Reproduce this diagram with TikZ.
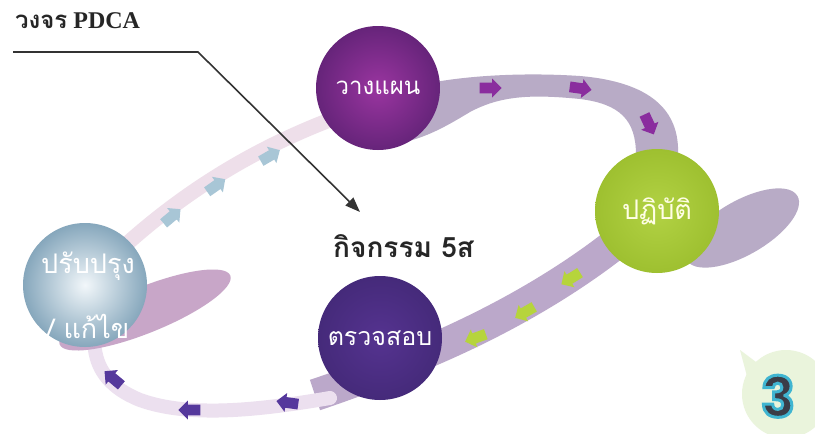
\documentclass[tikz,border=0pt]{standalone}
\usepackage{fontspec}
\setmainfont{Liberation Serif}
\newfontfamily\thai[Script=Thai]{Loma}
\newfontfamily\numfont{Poppins}
\usetikzlibrary{shapes.arrows,shapes.geometric,arrows.meta}
\definecolor{graytrack}{HTML}{B8ABC6}
\definecolor{graytrackB}{HTML}{BBA8CA}
\definecolor{pinktrack}{HTML}{EEDFEA}
\definecolor{palelav}{HTML}{ECE0EF}
\definecolor{actshadow}{HTML}{C8A6C8}
\definecolor{planin}{HTML}{9A35A0}
\definecolor{planout}{HTML}{66247A}
\definecolor{doin}{HTML}{B2D244}
\definecolor{doout}{HTML}{9EC030}
\definecolor{checkin}{HTML}{553390}
\definecolor{checkout}{HTML}{452A7A}
\definecolor{actin}{HTML}{F2F7FA}
\definecolor{actout}{HTML}{86A7BC}
\definecolor{arrplan}{HTML}{8A2D9E}
\definecolor{arrdo}{HTML}{B6D43C}
\definecolor{arrcheck}{HTML}{55389C}
\definecolor{arract}{HTML}{A8C6D6}
\definecolor{bubble}{HTML}{EAF4DC}
\definecolor{numdark}{HTML}{3A3D48}
\tikzset{
  ball/.style={circle, minimum size=124pt, inner sep=0pt, text=white,
    font=\thai\fontsize{24}{28}\selectfont},
  blockarr/.style={single arrow, minimum height=22pt, minimum width=19pt,
    single arrow head extend=4pt, inner xsep=0pt, inner ysep=0pt, draw=none},
  heading/.style={font=\fontsize{24}{28}\selectfont\bfseries, text=black!85, inner sep=0pt},
}
\newcommand{\shaft}{\rule{0pt}{10pt}}
\newcommand{\outlined}[1]{\special{pdf:literal direct 2 Tr 3 w 0.25 0.71 0.82 RG}#1\special{pdf:literal direct 0 Tr}}
\begin{document}
\begin{tikzpicture}[x=1pt,y=-1pt]
\useasboundingbox (0,0) rectangle (815,434);
\fill[white] (0,0) rectangle (815,434);

% ---- tracks ----
% Act -> Plan
\draw[pinktrack, line width=15pt, line cap=round]
  (120,250) .. controls (180,195) and (250,150) .. (335,118);
% Plan -> Do
\fill[graytrack] (420,85) .. controls (460,76) and (520,72) .. (580,76)
  .. controls (650,82) and (680,110) .. (678,155) -- (636,155)
  .. controls (636,120) and (620,104) .. (580,99)
  .. controls (530,94) and (500,96) .. (470,112)
  .. controls (450,124) and (430,136) .. (405,142) -- cycle;
% Do shadow
\fill[graytrack, rotate around={30:(742,228)}] (742,228) ellipse [x radius=64, y radius=27];
% Do -> Check
\draw[graytrackB, line width=32pt]
  (630,232) .. controls (560,290) and (480,330) .. (420,355)
  .. controls (380,372) and (345,385) .. (315,395);
% Check -> Act
\draw[palelav, line width=14pt, line cap=round]
  (330,398) .. controls (260,410) and (190,418) .. (140,400)
  .. controls (110,388) and (98,370) .. (95,350);
% Act shadow
\fill[actshadow, rotate around={22:(145,310)}] (145,310) ellipse [x radius=92, y radius=23];

% ---- circles ----
\node[ball, shading=radial, inner color=planin, outer color=planout] (plan) at (378,88) {วางแผน};
\node[ball, shading=radial, inner color=doin, outer color=doout, text=white!90!yellow,
  font=\thai\fontsize{27}{30}\selectfont] (do) at (657,211) {ปฏิบัติ};
\node[ball, shading=radial, inner color=checkin, outer color=checkout,
  font=\thai\fontsize{25}{28}\selectfont] (check) at (380,338) {ตรวจสอบ};
\node[ball, shading=radial, inner color=actin, outer color=actout] (act) at (85,285) {};
\node[text=white, font=\thai\fontsize{27}{30}\selectfont] (acttop) at (88,266) {ปรับปรุง};
\node[text=white, font=\thai\fontsize{27}{30}\selectfont] (actbot) at (88,326) {/ แก้ไข};

% ---- block arrows ----
\node[blockarr, fill=arrplan, rotate=0] (p1) at (488,88) {\shaft};
\node[blockarr, fill=arrplan, rotate=-8] (p2) at (578,88) {\shaft};
\node[blockarr, fill=arrplan, rotate=-65] (p3) at (648,122) {\shaft};
\node[blockarr, fill=arrdo, rotate=212] (d1) at (573,277) {\shaft};
\node[blockarr, fill=arrdo, rotate=210] (d2) at (527,311) {\shaft};
\node[blockarr, fill=arrdo, rotate=200] (d3) at (478,337) {\shaft};
\node[blockarr, fill=arrcheck, rotate=172] (c1) at (290,403) {\shaft};
\node[blockarr, fill=arrcheck, rotate=180] (c2) at (192,410) {\shaft};
\node[blockarr, fill=arrcheck, rotate=140] (c3) at (115,380) {\shaft};
\node[blockarr, fill=arract, rotate=40] (a1) at (170,218) {\shaft};
\node[blockarr, fill=arract, rotate=35] (a2) at (214,187) {\shaft};
\node[blockarr, fill=arract, rotate=30] (a3) at (268,157) {\shaft};

% ---- headings ----
\node[heading, anchor=west] (title) at (15,21) {{\thai วงจร} PDCA};
\node[heading, anchor=west] (act5s) at (333,246) {{\thai\fontsize{28}{30}\selectfont กิจกรรม 5ส}};
\coordinate (lstart) at (13,52);
\coordinate (lbend) at (198,52);
\coordinate (ltip) at (360,212);
\draw[black!80, line width=1.6pt, -{Triangle[length=15pt,width=11pt]}]
  (lstart) -- (lbend) -- (ltip);

% ---- number bubble ----
\fill[bubble] (786,394) circle [radius=44];
\fill[bubble] (740,350) -- (760,365) -- (748,380) -- cycle;
\node[font=\numfont\bfseries\fontsize{56}{56}\selectfont, text=numdark, anchor=base, inner sep=0pt]
  (n3) at (778,417) {\outlined{3}};
\end{tikzpicture}
\end{document}
